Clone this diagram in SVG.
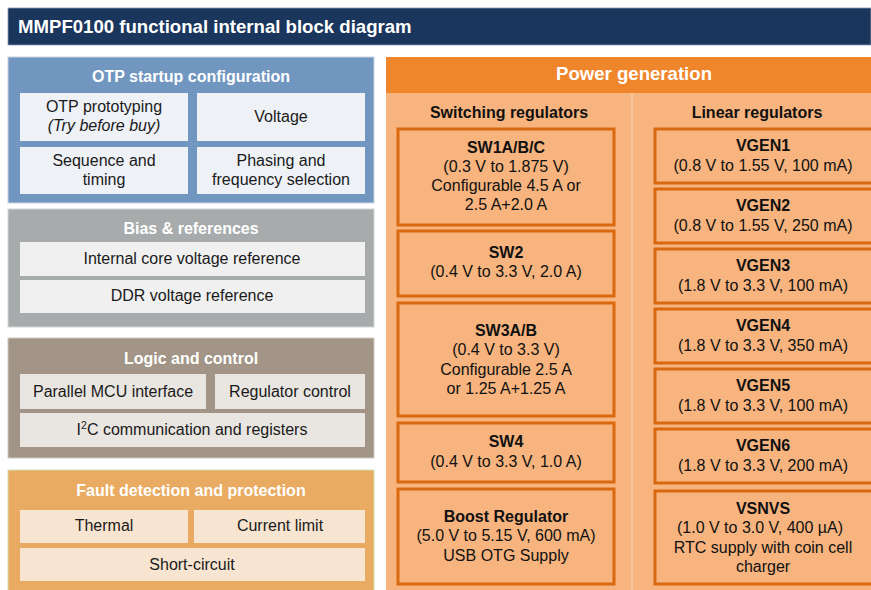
<svg xmlns="http://www.w3.org/2000/svg" width="871" height="590" viewBox="0 0 871 590">
<style>
text{font-family:"Liberation Sans",Arial,sans-serif;text-anchor:middle;}
.title{font-size:18.6px;font-weight:bold;fill:#fff;text-anchor:start;}
.ptitle{font-size:16px;font-weight:bold;fill:#fff;}
.pgtitle{font-size:18.6px;font-weight:bold;fill:#fff;}
.in{font-size:16px;fill:#1a1a1a;}
.hd{font-size:16px;font-weight:bold;fill:#111;}
.bt{font-size:16px;font-weight:bold;fill:#111;}
.bx{font-size:16px;fill:#111;}
.reg{fill:#f7b47e;stroke:#d9680f;stroke-width:3;}
.otpIn{fill:#eef1f6;}
.biasIn{fill:#f0f0f0;}
.logIn{fill:#e9e5e1;}
.faultIn{fill:#f8e5d1;}
</style>
<rect x="0" y="0" width="871" height="590" fill="#fff"/>
<g id="header">
<rect x="8" y="8" width="863" height="37" fill="#1b365d" stroke="#8a9bb3" stroke-width="0.8"/>
<text class="title" x="18" y="33">MMPF0100 functional internal block diagram</text>
</g>
<g id="otp">
<rect x="8" y="57" width="366" height="146" fill="#7196c0" stroke="#c9d4e3" stroke-width="1"/>
<text class="ptitle" x="191" y="82">OTP startup configuration</text>
<rect class="otpIn" x="20" y="93" width="168" height="48"/>
<rect class="otpIn" x="197" y="93" width="168" height="48"/>
<rect class="otpIn" x="20" y="147" width="168" height="47"/>
<rect class="otpIn" x="197" y="147" width="168" height="47"/>
<text class="in" x="104" y="112">OTP prototyping</text>
<text class="in" x="104" y="131" font-style="italic">(Try before buy)</text>
<text class="in" x="281" y="122">Voltage</text>
<text class="in" x="104" y="166">Sequence and</text>
<text class="in" x="104" y="185">timing</text>
<text class="in" x="281" y="166">Phasing and</text>
<text class="in" x="281" y="185">frequency selection</text>
</g>
<g id="bias">
<rect x="8" y="209" width="366" height="118" fill="#a7abab" stroke="#d4d6d6" stroke-width="1"/>
<text class="ptitle" x="191" y="234">Bias &amp; references</text>
<rect class="biasIn" x="20" y="242" width="345" height="34"/>
<rect class="biasIn" x="20" y="280" width="345" height="33"/>
<text class="in" x="192" y="264">Internal core voltage reference</text>
<text class="in" x="192" y="301">DDR voltage reference</text>
</g>
<g id="logic">
<rect x="8" y="338" width="366" height="120" fill="#a29587" stroke="#cfc8c0" stroke-width="1"/>
<text class="ptitle" x="191" y="364">Logic and control</text>
<rect class="logIn" x="20" y="374" width="186" height="35"/>
<rect class="logIn" x="215" y="374" width="150" height="35"/>
<rect class="logIn" x="20" y="413" width="345" height="34"/>
<text class="in" x="113" y="397">Parallel MCU interface</text>
<text class="in" x="290" y="397">Regulator control</text>
<text class="in" x="192" y="435">I<tspan font-size="10.5" dy="-6">2</tspan><tspan dy="6">C communication and registers</tspan></text>
</g>
<g id="fault">
<rect x="8" y="470" width="366" height="122" fill="#e9ab62" stroke="#cfe0b0" stroke-width="1"/>
<text class="ptitle" x="191" y="496">Fault detection and protection</text>
<rect class="faultIn" x="20" y="510" width="168" height="33"/>
<rect class="faultIn" x="194" y="510" width="171" height="33"/>
<rect class="faultIn" x="20" y="548" width="345" height="33"/>
<text class="in" x="104" y="531">Thermal</text>
<text class="in" x="280" y="531">Current limit</text>
<text class="in" x="192" y="570">Short-circuit</text>
</g>
<g id="power">
<rect x="386" y="57" width="490" height="540" fill="#f7b47e"/>
<rect x="386" y="57" width="490" height="36" fill="#f0862b"/>
<line x1="632" y1="93" x2="632" y2="590" stroke="#f5d3b5" stroke-width="1.2"/>
<text class="pgtitle" x="634" y="80">Power generation</text>
<text class="hd" x="509" y="118">Switching regulators</text>
<text class="hd" x="757" y="118">Linear regulators</text>
</g>
<g id="sw1">
<rect class="reg" x="398" y="129" width="216" height="96"/>
<text class="bt" x="506" y="153">SW1A/B/C</text>
<text class="bx" x="506" y="172">(0.3 V to 1.875 V)</text>
<text class="bx" x="506" y="191">Configurable 4.5 A or</text>
<text class="bx" x="506" y="210">2.5 A+2.0 A</text>
</g>
<g id="sw2">
<rect class="reg" x="398" y="231" width="216" height="65"/>
<text class="bt" x="506" y="258">SW2</text>
<text class="bx" x="506" y="277">(0.4 V to 3.3 V, 2.0 A)</text>
</g>
<g id="sw3">
<rect class="reg" x="398" y="303" width="216" height="113"/>
<text class="bt" x="506" y="336">SW3A/B</text>
<text class="bx" x="506" y="355">(0.4 V to 3.3 V)</text>
<text class="bx" x="506" y="375">Configurable 2.5 A</text>
<text class="bx" x="506" y="394">or 1.25 A+1.25 A</text>
</g>
<g id="sw4">
<rect class="reg" x="398" y="423" width="216" height="59"/>
<text class="bt" x="506" y="447">SW4</text>
<text class="bx" x="506" y="467">(0.4 V to 3.3 V, 1.0 A)</text>
</g>
<g id="boost">
<rect class="reg" x="398" y="489" width="216" height="95"/>
<text class="bt" x="506" y="522">Boost Regulator</text>
<text class="bx" x="506" y="541">(5.0 V to 5.15 V, 600 mA)</text>
<text class="bx" x="506" y="561">USB OTG Supply</text>
</g>
<g id="vgen1">
<rect class="reg" x="655" y="129" width="220" height="54"/>
<text class="bt" x="763" y="151">VGEN1</text>
<text class="bx" x="763" y="171">(0.8 V to 1.55 V, 100 mA)</text>
</g>
<g id="vgen2">
<rect class="reg" x="655" y="189" width="220" height="54"/>
<text class="bt" x="763" y="211">VGEN2</text>
<text class="bx" x="763" y="231">(0.8 V to 1.55 V, 250 mA)</text>
</g>
<g id="vgen3">
<rect class="reg" x="655" y="249" width="220" height="54"/>
<text class="bt" x="763" y="271">VGEN3</text>
<text class="bx" x="763" y="291">(1.8 V to 3.3 V, 100 mA)</text>
</g>
<g id="vgen4">
<rect class="reg" x="655" y="309" width="220" height="54"/>
<text class="bt" x="763" y="331">VGEN4</text>
<text class="bx" x="763" y="351">(1.8 V to 3.3 V, 350 mA)</text>
</g>
<g id="vgen5">
<rect class="reg" x="655" y="369" width="220" height="54"/>
<text class="bt" x="763" y="391">VGEN5</text>
<text class="bx" x="763" y="411">(1.8 V to 3.3 V, 100 mA)</text>
</g>
<g id="vgen6">
<rect class="reg" x="655" y="429" width="220" height="54"/>
<text class="bt" x="763" y="451">VGEN6</text>
<text class="bx" x="763" y="471">(1.8 V to 3.3 V, 200 mA)</text>
</g>
<g id="vsnvs">
<rect class="reg" x="655" y="491" width="220" height="93"/>
<text class="bt" x="763" y="514">VSNVS</text>
<text class="bx" x="760" y="533">(1.0 V to 3.0 V, 400 µA)</text>
<text class="bx" x="763" y="553">RTC supply with coin cell</text>
<text class="bx" x="763" y="572">charger</text>
</g>
<g id="connectors"/>
</svg>
